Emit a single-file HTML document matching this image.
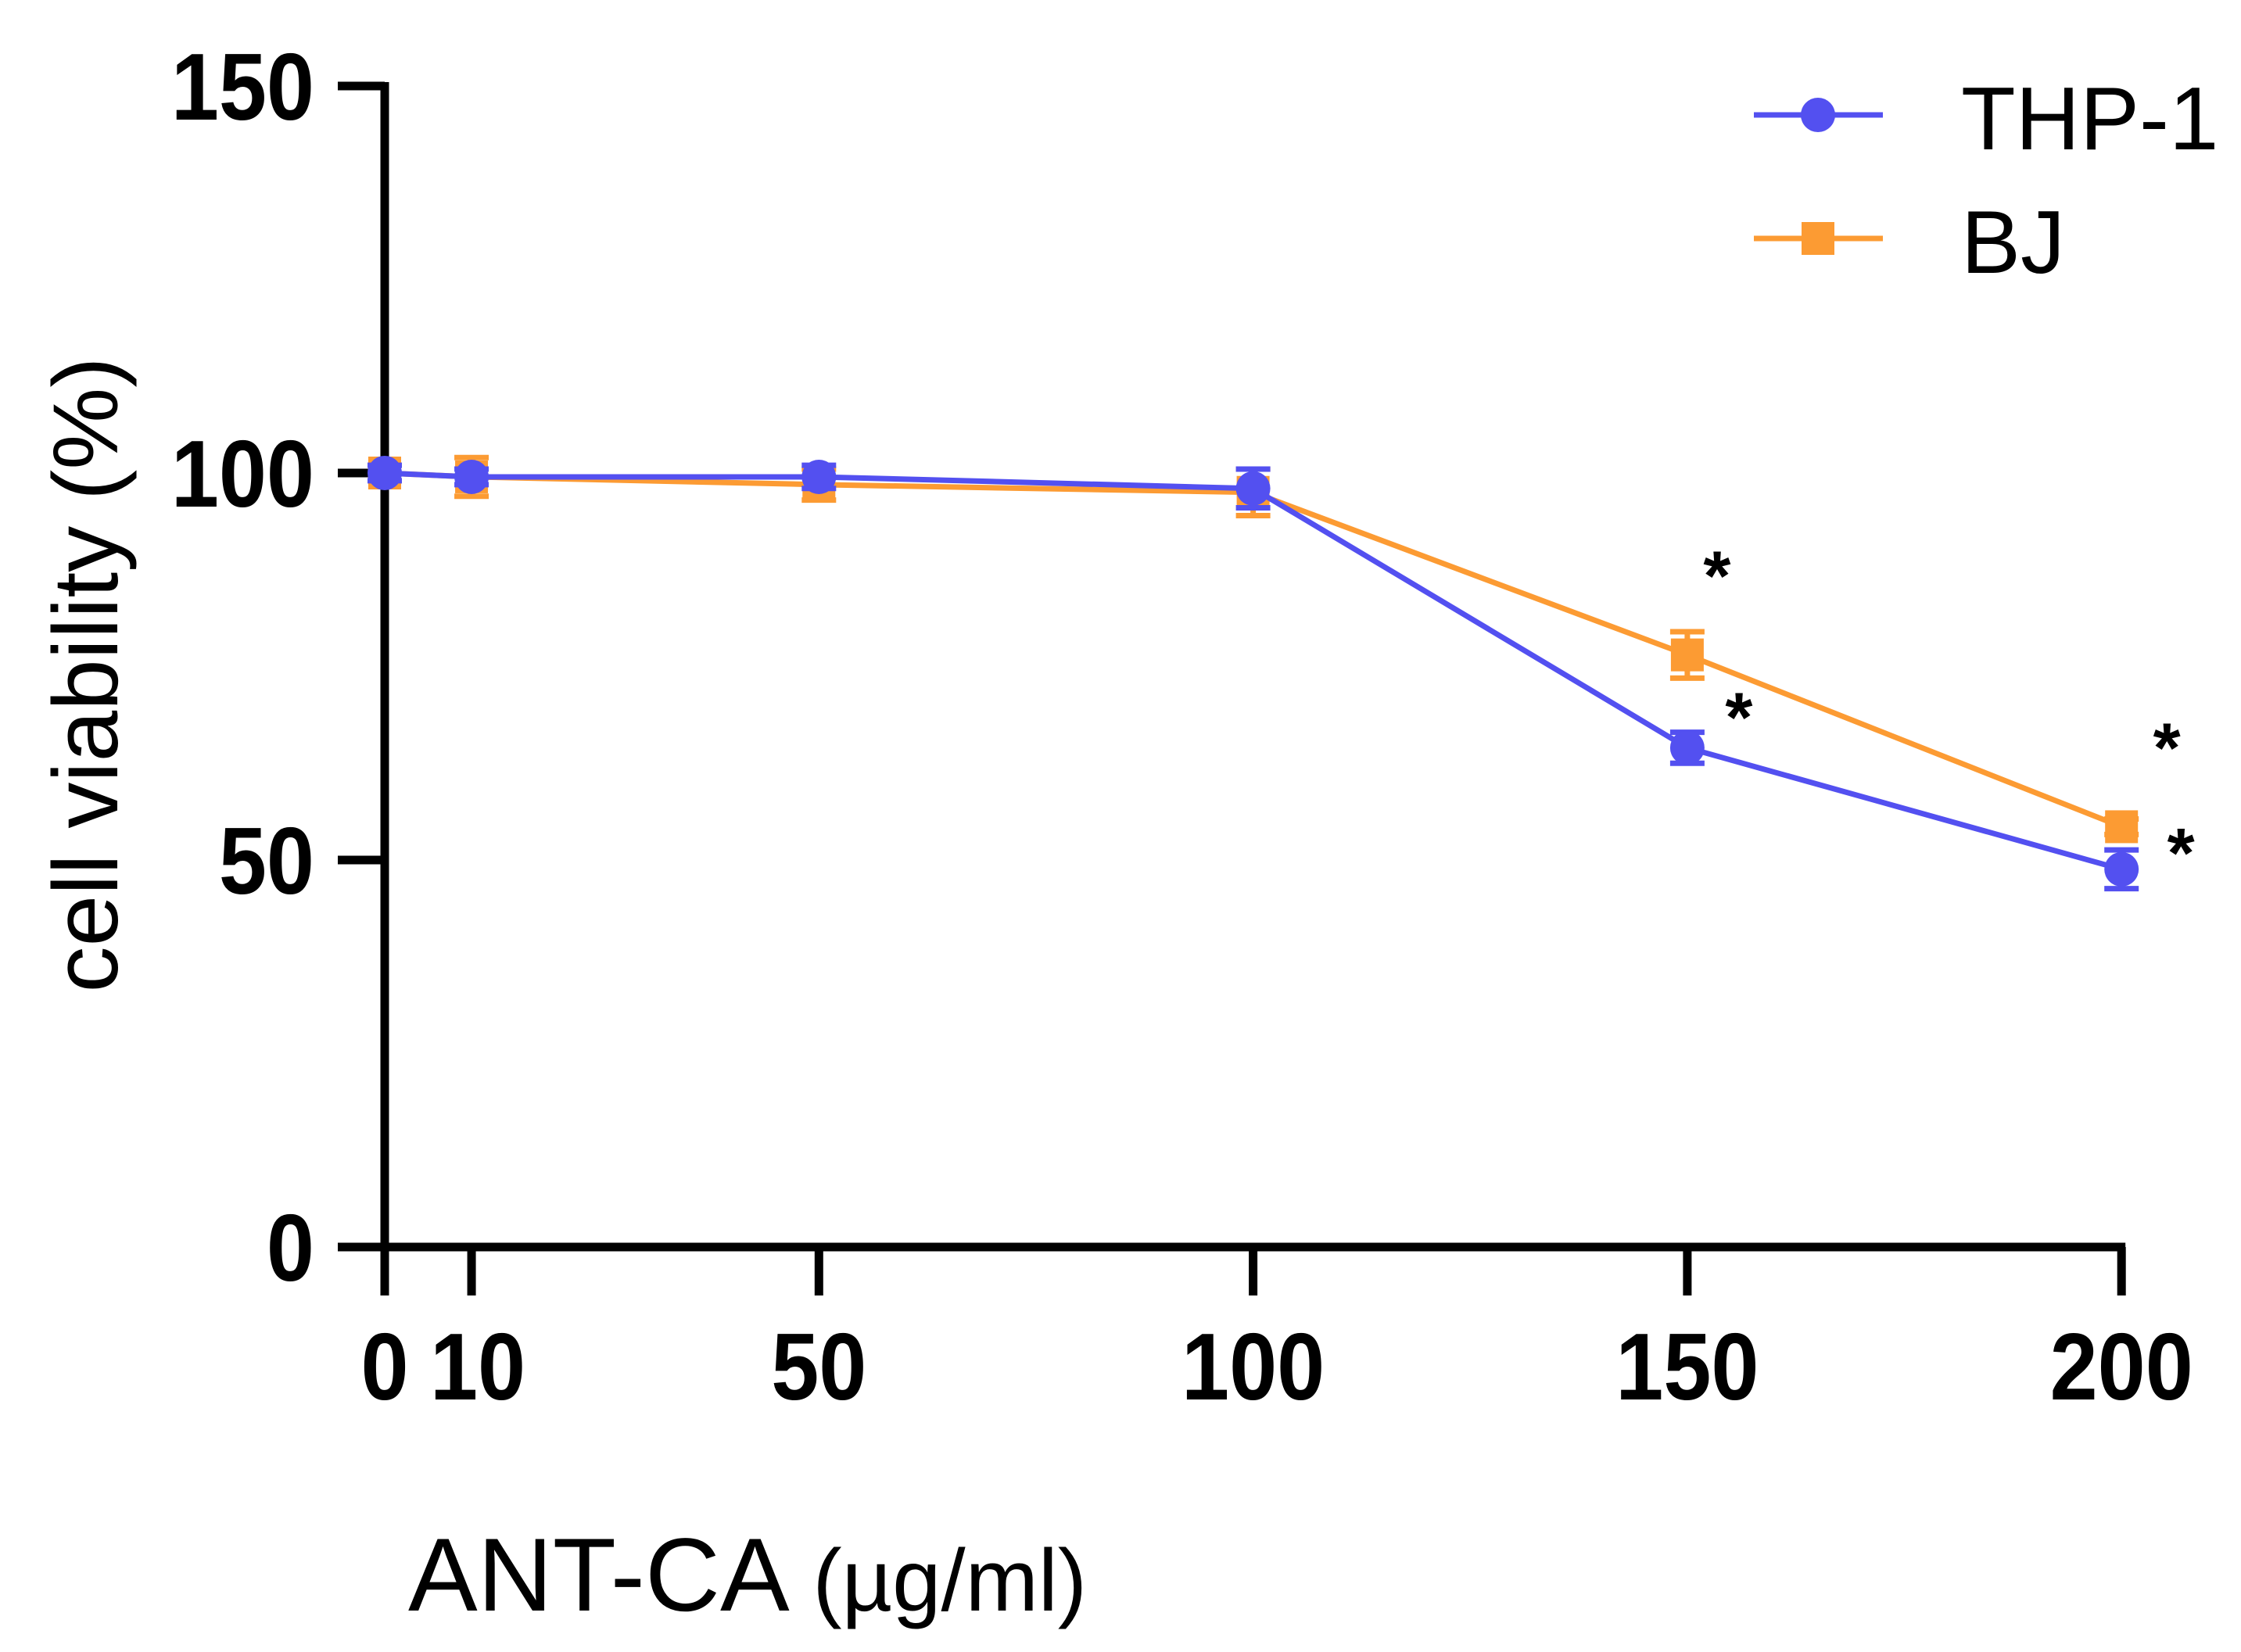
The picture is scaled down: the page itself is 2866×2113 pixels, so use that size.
<!DOCTYPE html>
<html><head><meta charset="utf-8"><style>
html,body{margin:0;padding:0;background:#fff;}
svg{display:block;font-family:"Liberation Sans",sans-serif;}
</style></head><body>
<svg id="chart" width="2866" height="2113" viewBox="0 0 2866 2113" xmlns="http://www.w3.org/2000/svg">
<g id="axes"></g><g id="series"></g><g id="legend"></g>
</svg>
<script>
const doses=[0,10,50,100,150,200];
const thpValues=[100,99.5,99.5,98,64.5,48.8];
const thpErrors=[1,1,1.5,2.5,2,2.5];
const bjValues=[100,99.5,98.5,97.5,76.5,54.3];
const bjErrors=[1,2.5,2,3,3,1];
const yTicks=[0,50,100,150];
const xTicks=[0,10,50,100,150,200];
const thpStars=[null,null,null,null,true,true];
const bjStars=[null,null,null,null,true,true];

const NS="http://www.w3.org/2000/svg";
const X0=492,XU=11.106,Y0=1595,YU=9.9;
const sx=v=>X0+v*XU, sy=v=>Y0-v*YU;
function mk(tag,attrs,parent,text){const e=document.createElementNS(NS,tag);for(const k in attrs)e.setAttribute(k,attrs[k]);if(text!==undefined)e.textContent=text;parent.appendChild(e);return e;}
const axes=document.getElementById('axes'),series=document.getElementById('series'),legend=document.getElementById('legend');

let e=mk('line',{x1:X0,y1:sy(150)-5,x2:X0,y2:Y0+5,stroke:'#000','stroke-width':11},axes);

e=mk('line',{x1:X0-5,y1:Y0,x2:sx(200)+5,y2:Y0,stroke:'#000','stroke-width':11},axes);

yTicks.forEach(t=>{
  let l=mk('line',{x1:X0-60,y1:sy(t),x2:X0,y2:sy(t),stroke:'#000','stroke-width':11},axes);
  
  let tx=mk('text',{x:0,y:0,'font-size':122,'font-weight':'bold','text-anchor':'end',transform:`translate(402,${sy(t)+43}) scale(0.9,1)`},axes,String(t));
  
});
xTicks.forEach(t=>{
  let l=mk('line',{x1:sx(t),y1:Y0,x2:sx(t),y2:Y0+62,stroke:'#000','stroke-width':11},axes);
  
  let tx=mk('text',{x:0,y:0,'font-size':122,'font-weight':'bold','text-anchor':'middle',transform:`translate(${sx(t)+(t===10?8:0)},1790) scale(0.9,1)`},axes,String(t));
  
});
e=mk('text',{x:0,y:0,'font-size':118,'text-anchor':'middle',transform:'translate(150,863) rotate(-90)'},axes,'cell viability (%)');

e=mk('text',{x:522,y:2060,'font-size':133},axes);

mk('tspan',{},e,'ANT-CA ');mk('tspan',{'font-size':112},e,'(µg/ml)');

function drawSeries(vals,errs,color,shape,name,stars,starOff){
  const pts=doses.map((d,i)=>sx(d)+','+sy(vals[i])).join(' ');
  let p=mk('polyline',{points:pts,fill:'none',stroke:color,'stroke-width':7},series);
  
  doses.forEach((d,i)=>{
    const x=sx(d),y=sy(vals[i]),yt=sy(vals[i]+errs[i]),yb=sy(vals[i]-errs[i]);
    let g=mk('g',{},series);
    
    mk('line',{x1:x,y1:yt,x2:x,y2:yb,stroke:color,'stroke-width':7},g);
    mk('line',{x1:x-22,y1:yt,x2:x+22,y2:yt,stroke:color,'stroke-width':7},g);
    mk('line',{x1:x-22,y1:yb,x2:x+22,y2:yb,stroke:color,'stroke-width':7},g);
    if(shape==='circle')mk('circle',{cx:x,cy:y,r:22,fill:color},g);
    else mk('rect',{x:x-21,y:y-21,width:42,height:42,fill:color},g);
    if(stars[i]){
      const dx=i===5?(name==='bj'?20:10):0, dy=i===5&&name!=='bj'?18:0;
      let s=mk('text',{x:x+starOff[0]+dx,y:y+starOff[1]+dy,'font-size':90,'font-weight':'bold','text-anchor':'middle'},series,'*');
      
    }
  });
}
drawSeries(bjValues,bjErrors,'#fc9b33','square','bj',bjStars,[38,-70]);
drawSeries(thpValues,thpErrors,'#5350f0','circle','thp1',thpStars,[66,-8]);

function legendEntry(y,color,shape,label,name){
  let g=mk('g',{},legend);
  
  mk('line',{x1:2243,y1:y,x2:2408,y2:y,stroke:color,'stroke-width':7},g);
  if(shape==='circle')mk('circle',{cx:2325,cy:y,r:22,fill:color},g);
  else mk('rect',{x:2304,y:y-21,width:42,height:42,fill:color},g);
  mk('text',{x:2508,y:y+44,'font-size':114},g,label);
}
legendEntry(147,'#5350f0','circle','THP-1','legend-entry-thp1');
legendEntry(305,'#fc9b33','square','BJ','legend-entry-bj');
</script>
</body></html>
